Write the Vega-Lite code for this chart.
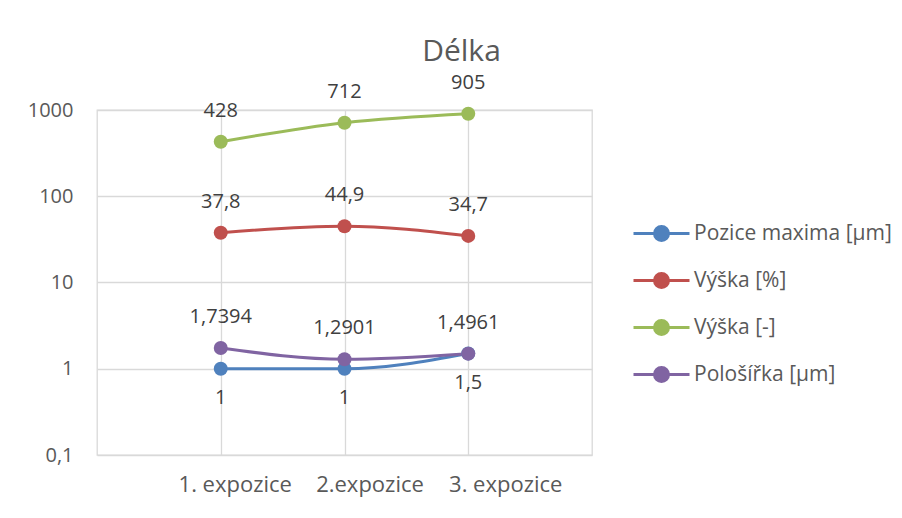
{
  "$schema": "https://vega.github.io/schema/vega-lite/v6.json",
  "width": 495,
  "height": 345,
  "autosize": {"type": "none"},
  "padding": {"left": 97, "top": 110, "right": 310, "bottom": 63},
  "background": "white",
  "config": {
    "font": "Open Sans",
    "view": {"stroke": "#D9D9D9", "strokeWidth": 1.3},
    "locale": {"number": {"decimal": ",", "thousands": " ", "grouping": [3], "currency": ["", " Kč"]}}
  },
  "title": {
    "text": "Délka",
    "fontSize": 30,
    "fontWeight": "normal",
    "color": "#595959",
    "anchor": "middle",
    "frame": "group",
    "dx": 117,
    "offset": -18,
    "baseline": "alphabetic"
  },
  "data": {
    "values": [
      {"serie": "Pozice maxima [µm]", "kat": "1. expozice", "hodnota": 1},
      {"serie": "Pozice maxima [µm]", "kat": "2.expozice", "hodnota": 1},
      {"serie": "Pozice maxima [µm]", "kat": "3. expozice", "hodnota": 1.5},
      {"serie": "Výška [%]", "kat": "1. expozice", "hodnota": 37.8},
      {"serie": "Výška [%]", "kat": "2.expozice", "hodnota": 44.9},
      {"serie": "Výška [%]", "kat": "3. expozice", "hodnota": 34.7},
      {"serie": "Výška [-]", "kat": "1. expozice", "hodnota": 428},
      {"serie": "Výška [-]", "kat": "2.expozice", "hodnota": 712},
      {"serie": "Výška [-]", "kat": "3. expozice", "hodnota": 905},
      {"serie": "Pološířka [µm]", "kat": "1. expozice", "hodnota": 1.7394},
      {"serie": "Pološířka [µm]", "kat": "2.expozice", "hodnota": 1.2901},
      {"serie": "Pološířka [µm]", "kat": "3. expozice", "hodnota": 1.4961}
    ]
  },
  "encoding": {
    "x": {
      "field": "kat",
      "type": "ordinal",
      "sort": null,
      "scale": {"type": "point", "padding": 1},
      "axis": {
        "title": null,
        "labelAngle": 0,
        "labelFontSize": 22,
        "labelColor": "#595959",
        "labelPadding": 19,
        "labelOffset": {
          "condition": [
            {"test": "datum.value === '1. expozice'", "value": 14},
            {"test": "datum.value === '2.expozice'", "value": 25}
          ],
          "value": 37
        },
        "ticks": false,
        "domain": false,
        "grid": true,
        "gridColor": "#D9D9D9",
        "gridWidth": 1.3
      }
    },
    "y": {
      "field": "hodnota",
      "type": "quantitative",
      "scale": {"type": "log", "domain": [0.1, 1000], "nice": false},
      "axis": {
        "title": null,
        "values": [0.1, 1, 10, 100, 1000],
        "format": "~g",
        "labelFontSize": 20,
        "labelColor": "#595959",
        "labelPadding": 24,
        "ticks": false,
        "domain": false,
        "grid": true,
        "gridColor": "#D9D9D9",
        "gridWidth": 1.3
      }
    },
    "color": {
      "field": "serie",
      "type": "nominal",
      "sort": ["Pozice maxima [µm]", "Výška [%]", "Výška [-]", "Pološířka [µm]"],
      "scale": {
        "domain": ["Pozice maxima [µm]", "Výška [%]", "Výška [-]", "Pološířka [µm]"],
        "range": ["#4F81BD", "#C0504D", "#9BBB59", "#8064A2"]
      },
      "legend": {
        "title": null,
        "orient": "none",
        "legendX": 554,
        "legendY": 113,
        "symbolType": "M-4,0H4M1,0A1,1,0,1,1,-1,0A1,1,0,1,1,1,0Z",
        "symbolSize": 196,
        "symbolStrokeWidth": 3,
        "symbolFillColor": null,
        "labelFontSize": 21,
        "labelColor": "#595959",
        "labelOffset": 22,
        "rowPadding": 20,
        "labelLimit": 300
      }
    }
  },
  "layer": [
    {
      "mark": {"type": "line", "strokeWidth": 3, "interpolate": "monotone"},
      "encoding": {"detail": {"field": "serie"}}
    },
    {
      "mark": {"type": "point", "filled": true, "opacity": 1, "size": 196, "shape": "circle"}
    },
    {
      "transform": [{"filter": "datum.serie !== 'Pozice maxima [µm]'"}],
      "mark": {"type": "text", "fontSize": 20, "dy": -31, "baseline": "middle"},
      "encoding": {
        "text": {"field": "hodnota", "type": "quantitative", "format": "~g"},
        "color": {"value": "#404040"}
      }
    },
    {
      "transform": [{"filter": "datum.serie === 'Pozice maxima [µm]'"}],
      "mark": {"type": "text", "fontSize": 20, "dy": 29, "baseline": "middle"},
      "encoding": {
        "text": {"field": "hodnota", "type": "quantitative", "format": "~g"},
        "color": {"value": "#404040"}
      }
    }
  ]
}
